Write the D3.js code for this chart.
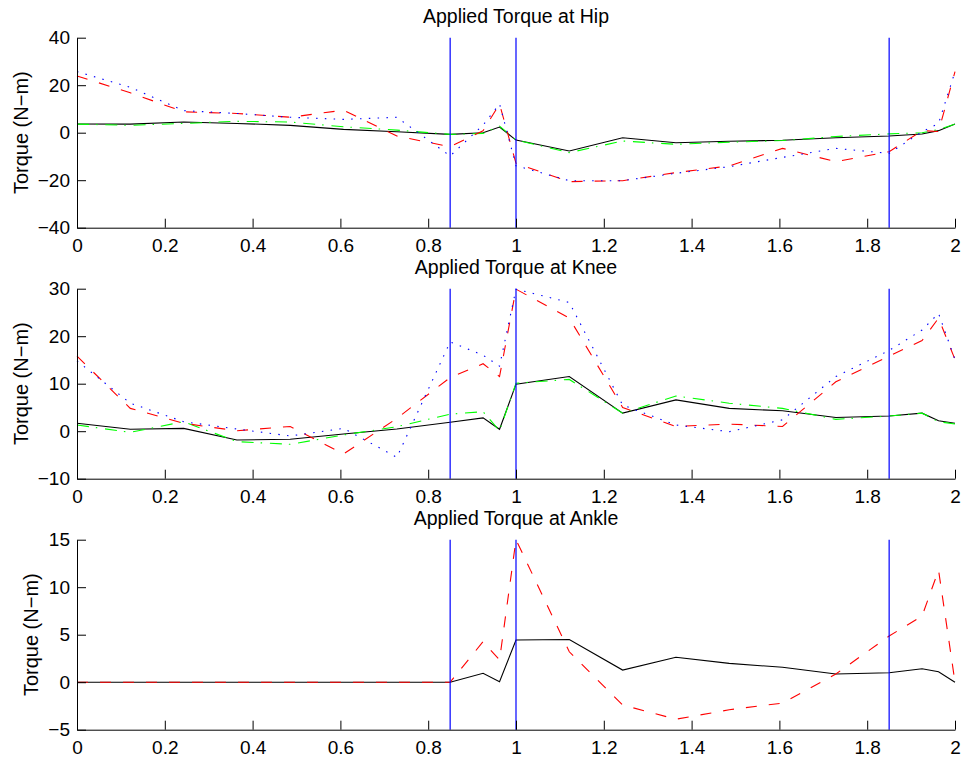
<!DOCTYPE html>
<html>
<head>
<meta charset="utf-8">
<script src="https://cdn.jsdelivr.net/npm/d3@7"></script>
<style>
body { margin: 0; background: #fff; }
text { font-family: "Liberation Sans", Arial, sans-serif; fill: #000; }
</style>
</head>
<body>
<div id="chart"></div>
<script>
// sample times (s)
var times = [0, 0.1214, 0.2429, 0.3643, 0.4857, 0.6071, 0.7286, 0.85, 0.925, 0.9625, 1.0,
  1.1214, 1.2429, 1.3643, 1.4857, 1.6071, 1.7286, 1.85, 1.925, 1.9625, 2.0];
// phase boundaries (vertical blue lines)
var events = [0.85, 1.0, 1.85];
var xTicks = [0, 0.2, 0.4, 0.6, 0.8, 1, 1.2, 1.4, 1.6, 1.8, 2];

// hip torque (N-m)
var hipSolid   = [3.65, 3.6, 4.5, 3.9, 3.1, 1.4, 0.4, -0.7, 0.0, 2.4, -3.1, -7.7, -2.1, -4.2, -3.6, -3.2, -2.1, -1.4, -0.55, 0.86, 3.66];
var hipDashDot = [3.6, 3.1, 3.9, 4.8, 4.5, 2.5, 1.1, -0.7, -0.3, 2.8, -3.1, -8.4, -3.5, -4.9, -4.0, -3.3, -1.6, -0.5, 0.0, 1.3, 3.6];
var hipDashed  = [23.9, 16.8, 8.8, 8.1, 6.5, 9.5, -1.4, -5.9, 0.8, 12.1, -12.9, -20.6, -20.2, -16.8, -14.0, -6.6, -12.2, -8.0, 0.86, 0.5, 25.7];
var hipDotted  = [25.7, 19.1, 9.3, 8.1, 6.5, 5.6, 6.5, -9.8, 3.2, 12.1, -13.9, -20.2, -20.2, -17.1, -14.3, -10.4, -6.6, -8.7, 0.4, 3.9, 25.7];
var hipTicks = [-40, -20, 0, 20, 40];

// knee torque (N-m)
var kneeSolid   = [1.66, 0.4, 0.6, -1.85, -1.7, -0.6, 0.46, 1.87, 2.8, 0.4, 9.9, 11.5, 3.8, 6.6, 4.8, 4.3, 2.9, 3.2, 3.8, 2.2, 1.66];
var kneeDashDot = [1.3, -0.24, 2.0, -2.2, -2.76, -0.8, 0.95, 3.6, 4.1, 0.1, 10.1, 10.9, 3.8, 7.4, 5.9, 4.8, 2.5, 3.2, 3.8, 2.0, 1.5];
var kneeDashed  = [15.8, 4.8, 1.66, 0.1, 1.0, -4.8, 2.7, 11.3, 14.2, 11.5, 29.9, 23.8, 5.0, 1.0, 1.5, 1.0, 10.4, 15.8, 19.1, 23.8, 15.1];
var kneeDotted  = [14.8, 5.9, 2.0, 0.46, -1.0, 0.6, -5.5, 18.8, 16.0, 13.7, 29.9, 27.1, 5.5, 1.3, -0.1, 2.4, 11.5, 17.0, 21.3, 24.8, 15.1];
var kneeTicks = [-10, 0, 10, 20, 30];

// ankle torque (N-m)
var ankleSolid  = [0, 0, 0, 0, 0, 0, 0, 0, 0.94, 0.05, 4.44, 4.5, 1.28, 2.62, 1.98, 1.57, 0.86, 1.0, 1.42, 1.1, 0];
var ankleDashed = [0, 0, 0, 0, 0, 0, 0, 0, 4.27, 2.34, 15.0, 3.2, -2.4, -3.9, -2.9, -2.2, 0.86, 4.86, 6.97, 11.8, 0];
var ankleTicks = [-5, 0, 5, 10, 15];

var width = 961, height = 759;
var left = 77, right = 955, plotH = 190;
var tickLen = 9;

var styles = {
  solid:   { color: "#000000", dash: null },
  dashdot: { color: "#00ff00", dash: "12,7,1.5,7.8" },
  dashed:  { color: "#ff0000", dash: "11,12" },
  dotted:  { color: "#0000ff", dash: "1.5,7.3" }
};

var panels = [
  { title: "Applied Torque at Hip", top: 37.7, ticks: hipTicks,
    series: [["solid", hipSolid], ["dashdot", hipDashDot], ["dashed", hipDashed], ["dotted", hipDotted]] },
  { title: "Applied Torque at Knee", top: 288.7, ticks: kneeTicks,
    series: [["solid", kneeSolid], ["dashdot", kneeDashDot], ["dashed", kneeDashed], ["dotted", kneeDotted]] },
  { title: "Applied Torque at Ankle", top: 539.7, ticks: ankleTicks,
    series: [["solid", ankleSolid], ["dashed", ankleDashed]] }
];

var svg = d3.select("#chart").append("svg")
  .attr("width", width)
  .attr("height", height)
  .style("display", "block")
  .style("background", "#fff");

var x = d3.scaleLinear().domain([0, 2]).range([left, right]);

panels.forEach(function(p) {
  var y = d3.scaleLinear()
    .domain(d3.extent(p.ticks))
    .range([p.top + plotH, p.top]);

  var g = svg.append("g");

  // data lines
  p.series.forEach(function(s) {
    var st = styles[s[0]];
    var line = d3.line()
      .x(function(d, i) { return x(times[i]); })
      .y(function(d) { return y(d); });
    g.append("path")
      .datum(s[1])
      .attr("d", line)
      .attr("fill", "none")
      .attr("stroke", st.color)
      .attr("stroke-width", 1.1)
      .attr("stroke-dasharray", st.dash);
  });

  // phase markers
  g.selectAll(".event")
    .data(events)
    .enter().append("line")
    .attr("x1", function(d) { return x(d); })
    .attr("x2", function(d) { return x(d); })
    .attr("y1", p.top)
    .attr("y2", p.top + plotH)
    .attr("stroke", "#0000ff")
    .attr("stroke-width", 1.2);

  // x axis
  var xAxis = g.append("g")
    .attr("transform", "translate(0," + (p.top + plotH) + ")")
    .call(d3.axisBottom(x)
      .tickValues(xTicks)
      .tickSizeInner(-tickLen)
      .tickSizeOuter(0)
      .tickPadding(8)
      .tickFormat(function(d) { return String(d); }));
  xAxis.selectAll("text").attr("font-size", 19).attr("font-family", null).attr("dy", "0.84em");

  // y axis
  var yAxis = g.append("g")
    .attr("transform", "translate(" + left + ",0)")
    .call(d3.axisLeft(y)
      .tickValues(p.ticks)
      .tickSizeInner(-tickLen)
      .tickSizeOuter(0)
      .tickPadding(7)
      .tickFormat(d3.format("d")));
  yAxis.selectAll("text").attr("font-size", 19).attr("font-family", null);
  g.selectAll(".domain").attr("stroke", "#000");
  g.selectAll(".tick line").attr("stroke", "#000");

  // y label placed just left of the widest tick label
  var bb = yAxis.node().getBBox();
  var labelX = left + bb.x - 10;
  g.append("text")
    .attr("transform", "translate(" + labelX + "," + (p.top + plotH / 2) + ") rotate(-90)")
    .attr("text-anchor", "middle")
    .attr("font-size", 20)
    .text("Torque (N\u2212m)");

  // title
  g.append("text")
    .attr("x", (left + right) / 2)
    .attr("y", p.top - 15)
    .attr("text-anchor", "middle")
    .attr("font-size", 19.5)
    .text(p.title);
});
</script>
</body>
</html>
